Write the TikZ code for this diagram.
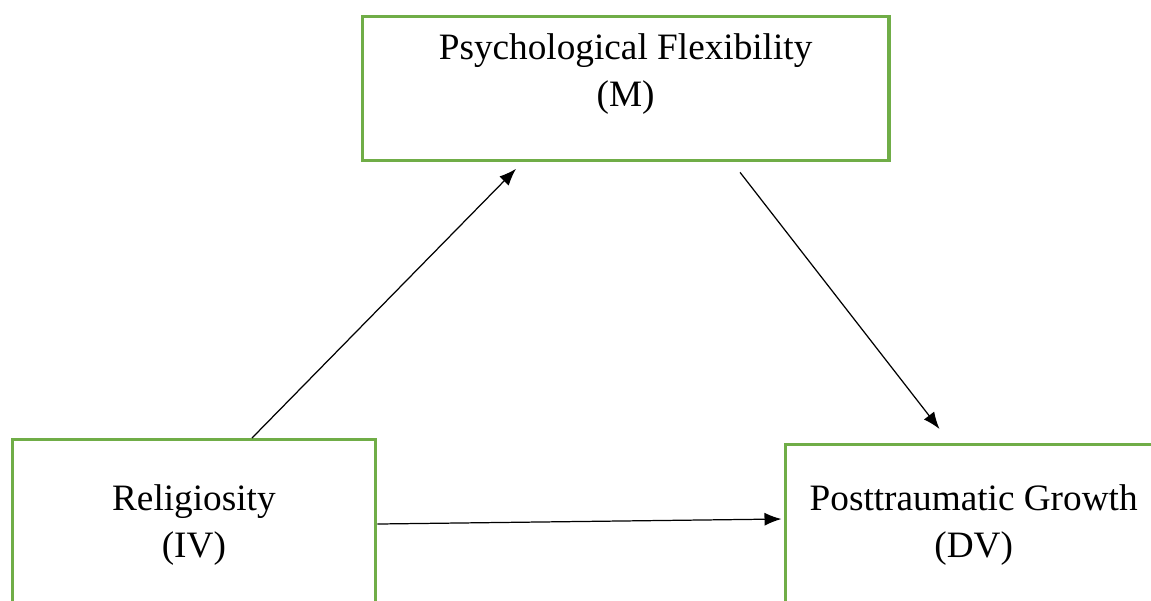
\documentclass[tikz,border=0pt]{standalone}
\usepackage{fontspec}
\setmainfont{Liberation Serif}
\usetikzlibrary{arrows.meta,positioning,calc}
\definecolor{boxgreen}{RGB}{112,173,71}
\tikzset{
  box/.style={draw=boxgreen, line width=1.9pt, rectangle, inner sep=0pt, anchor=north west},
  lbl/.style={align=center, inner sep=0pt, anchor=base, font=\fontsize{21.2}{26.2}\selectfont},
  link/.style={-{Latex[length=0.34cm,width=0.26cm]}, line width=0.7pt}
}
\begin{document}
\begin{tikzpicture}[x=0.02cm,y=-0.02cm]
    \useasboundingbox (0,0) rectangle (1151,600);
    \clip (0,0) rectangle (1151,600);

    % Cajas
    \node[box, minimum width=10.54cm, minimum height=2.88cm] (med) at (360.5,15) {};
    \node[box, minimum width=7.27cm, minimum height=4cm] (rel) at (10.5,438) {};
    \node[box, minimum width=7.54cm, minimum height=4cm] (ptg) at (783.5,443) {};

    % Textos
    \node[lbl] (medtext) at ($(med.north)+(0,91)$) {Psychological Flexibility\\(M)};
    \node[lbl] (reltext) at ($(rel.north)+(0,119)$) {Religiosity\\(IV)};
    \node[lbl] (ptgtext) at ($(ptg.north)+(0,114)$) {Posttraumatic Growth\\(DV)};

    % Flechas
    \draw[link] ($(rel.north west)+(241.5,0)$) -- ($(med.south west)+(155.5,6.5)$);
    \draw[link] ($(med.south west)+(379.5,10)$) -- ($(ptg.north west)+(156,-14)$);
    \draw[link] ($(rel.north east)+(0,86)$) -- ($(ptg.north west)+(-2,76)$);
\end{tikzpicture}
\end{document}
